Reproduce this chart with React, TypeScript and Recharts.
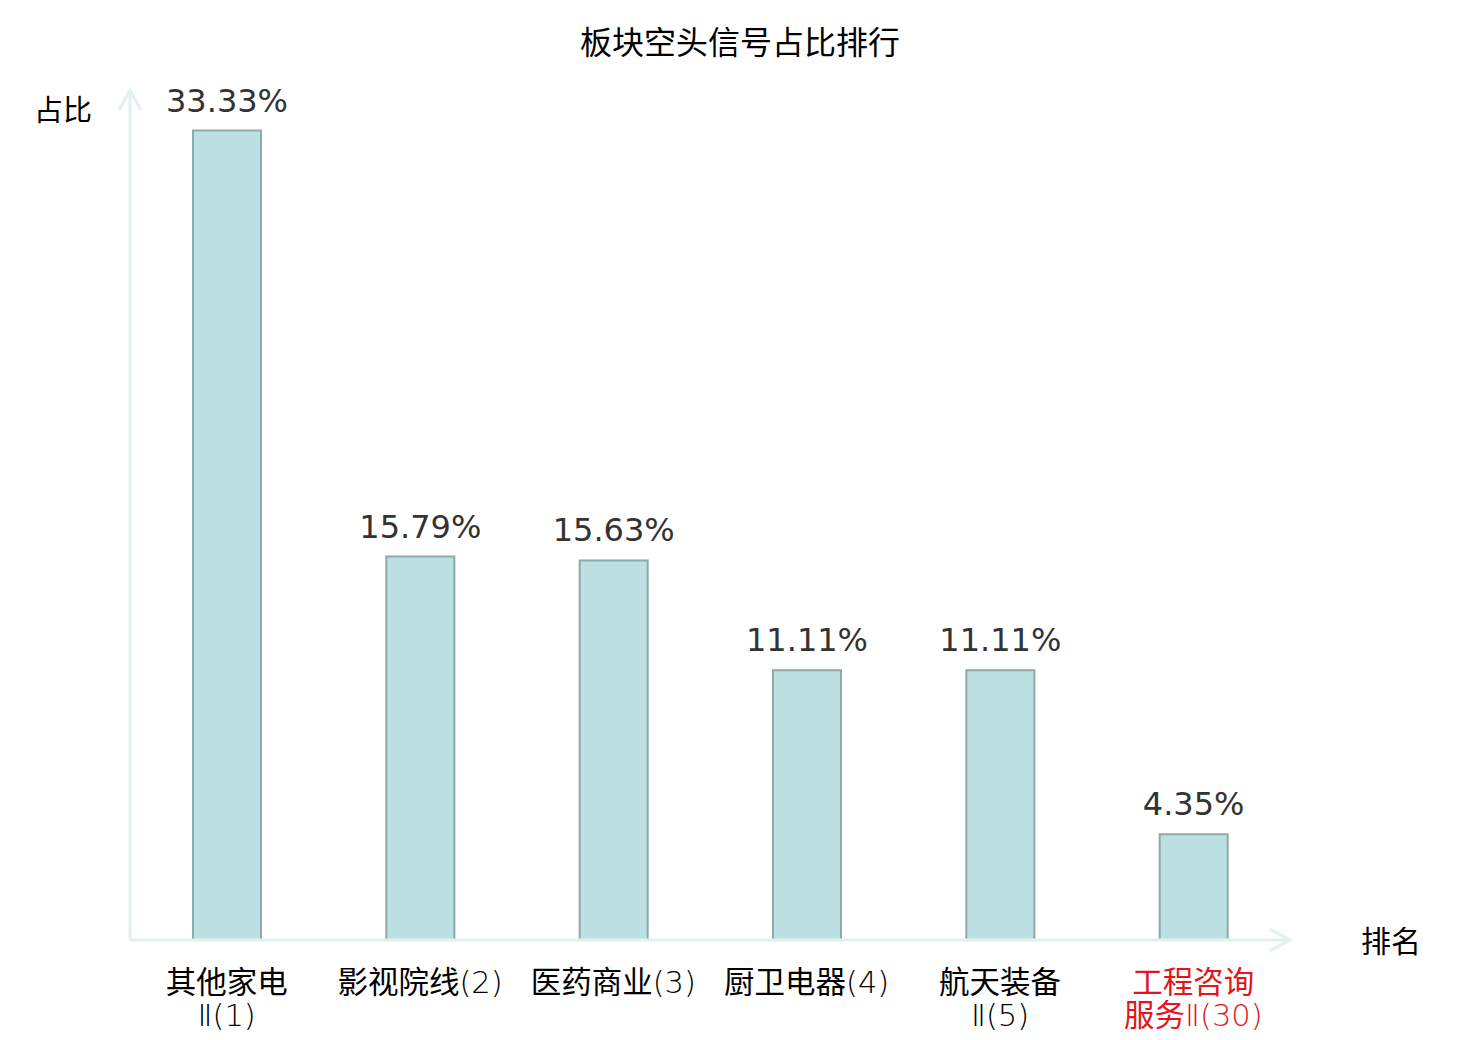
import React from "react";
import { BarChart, Bar, XAxis, YAxis, LabelList } from "recharts";

// sector names with rank, as shown under each bar
const categories = [
  "其他家电Ⅱ(1)",
  "影视院线(2)",
  "医药商业(3)",
  "厨卫电器(4)",
  "航天装备Ⅱ(5)",
  "工程咨询服务Ⅱ(30)",
];
// how each tick label wraps
const tickLines = [
  ["其他家电", "Ⅱ(1)"],
  ["影视院线(2)"],
  ["医药商业(3)"],
  ["厨卫电器(4)"],
  ["航天装备", "Ⅱ(5)"],
  ["工程咨询", "服务Ⅱ(30)"],
];
// short-signal share, percent
const ratios = [33.33, 15.79, 15.63, 11.11, 11.11, 4.35];
const highlighted = [false, false, false, false, false, true];

const W = 1480;
const H = 1040;
const AXIS_COLOR = "#dff2ef";
const CJK = "'Noto Sans CJK SC', 'Noto Sans', sans-serif";
const LATIN = "'DejaVu Sans', sans-serif";

const data = categories.map((name, i) => ({ name, value: ratios[i], idx: i }));

// split a line into CJK runs and latin runs so the latin bits can use a thinner face
function splitRuns(s: string) {
  const runs: { t: string; cjk: boolean }[] = [];
  for (const ch of s) {
    const cjk = /[\u4e00-\u9fff]/.test(ch);
    const last = runs[runs.length - 1];
    if (last && last.cjk === cjk) last.t += ch;
    else runs.push({ t: ch, cjk });
  }
  return runs;
}

function Tick(props: any) {
  const { x, y, payload } = props;
  const i = payload.index;
  const lines = tickLines[i] || [payload.value];
  const color = highlighted[i] ? "#e4141c" : "#000";
  return (
    <g>
      {lines.map((l, k) => (
        <text key={k} x={x} y={y + 45 + k * 33} textAnchor="middle" fill={color} fontSize={30.5} fontFamily={CJK}>
          {splitRuns(l).map((r, j) =>
            r.cjk ? (
              <tspan key={j}>{r.t}</tspan>
            ) : (
              <tspan key={j} fontFamily={LATIN} fontWeight={200}>
                {r.t}
              </tspan>
            )
          )}
        </text>
      ))}
    </g>
  );
}

function ValueLabel(props: any) {
  const { x, y, width, value } = props;
  return (
    <text x={x + width / 2} y={y - 19} textAnchor="middle" fill="#333" fontSize={32} fontFamily={LATIN}>
      {`${Number(value).toFixed(2)}%`}
    </text>
  );
}

export default function App() {
  return (
    <div style={{ position: "absolute", left: 0, top: 0, width: W, height: H, background: "#fff" }}>
      <BarChart
        width={W}
        height={H}
        data={data}
        margin={{ top: 90, right: 190, bottom: 0, left: 110 }}
        barCategoryGap="0%"
      >
        <XAxis
          dataKey="name"
          height={100}
          interval={0}
          tickLine={false}
          tick={<Tick />}
          axisLine={{ stroke: AXIS_COLOR, strokeWidth: 3, markerEnd: "url(#axisArrow)" }}
        />
        <YAxis
          domain={[0, 35]}
          width={20}
          tick={false}
          tickLine={false}
          axisLine={{ stroke: AXIS_COLOR, strokeWidth: 3, markerStart: "url(#axisArrow)" }}
        />
        <Bar dataKey="value" barSize={68} fill="#bde0e3" stroke="#8ea9a9" strokeWidth={2} isAnimationActive={false}>
          <LabelList dataKey="value" content={<ValueLabel />} />
        </Bar>
      </BarChart>
      <svg width={W} height={H} style={{ position: "absolute", left: 0, top: 0, pointerEvents: "none" }}>
        <defs>
          <marker
            id="axisArrow"
            viewBox="-2 -2 24 26"
            refX={20}
            refY={11}
            markerWidth={24}
            markerHeight={26}
            markerUnits="userSpaceOnUse"
            orient="auto-start-reverse"
            overflow="visible"
          >
            <path d="M0,0 L20,11 L0,22" fill="none" stroke={AXIS_COLOR} strokeWidth={3} />
          </marker>
        </defs>
        <text x={740} y={54} textAnchor="middle" fontSize={32} fill="#000" fontFamily={CJK}>
          板块空头信号占比排行
        </text>
        <text x={34} y={121} fontSize={29} fill="#000" fontFamily={CJK}>
          占比
        </text>
        <text x={1361} y={952} fontSize={30} fill="#000" fontFamily={CJK}>
          排名
        </text>
      </svg>
    </div>
  );
}
